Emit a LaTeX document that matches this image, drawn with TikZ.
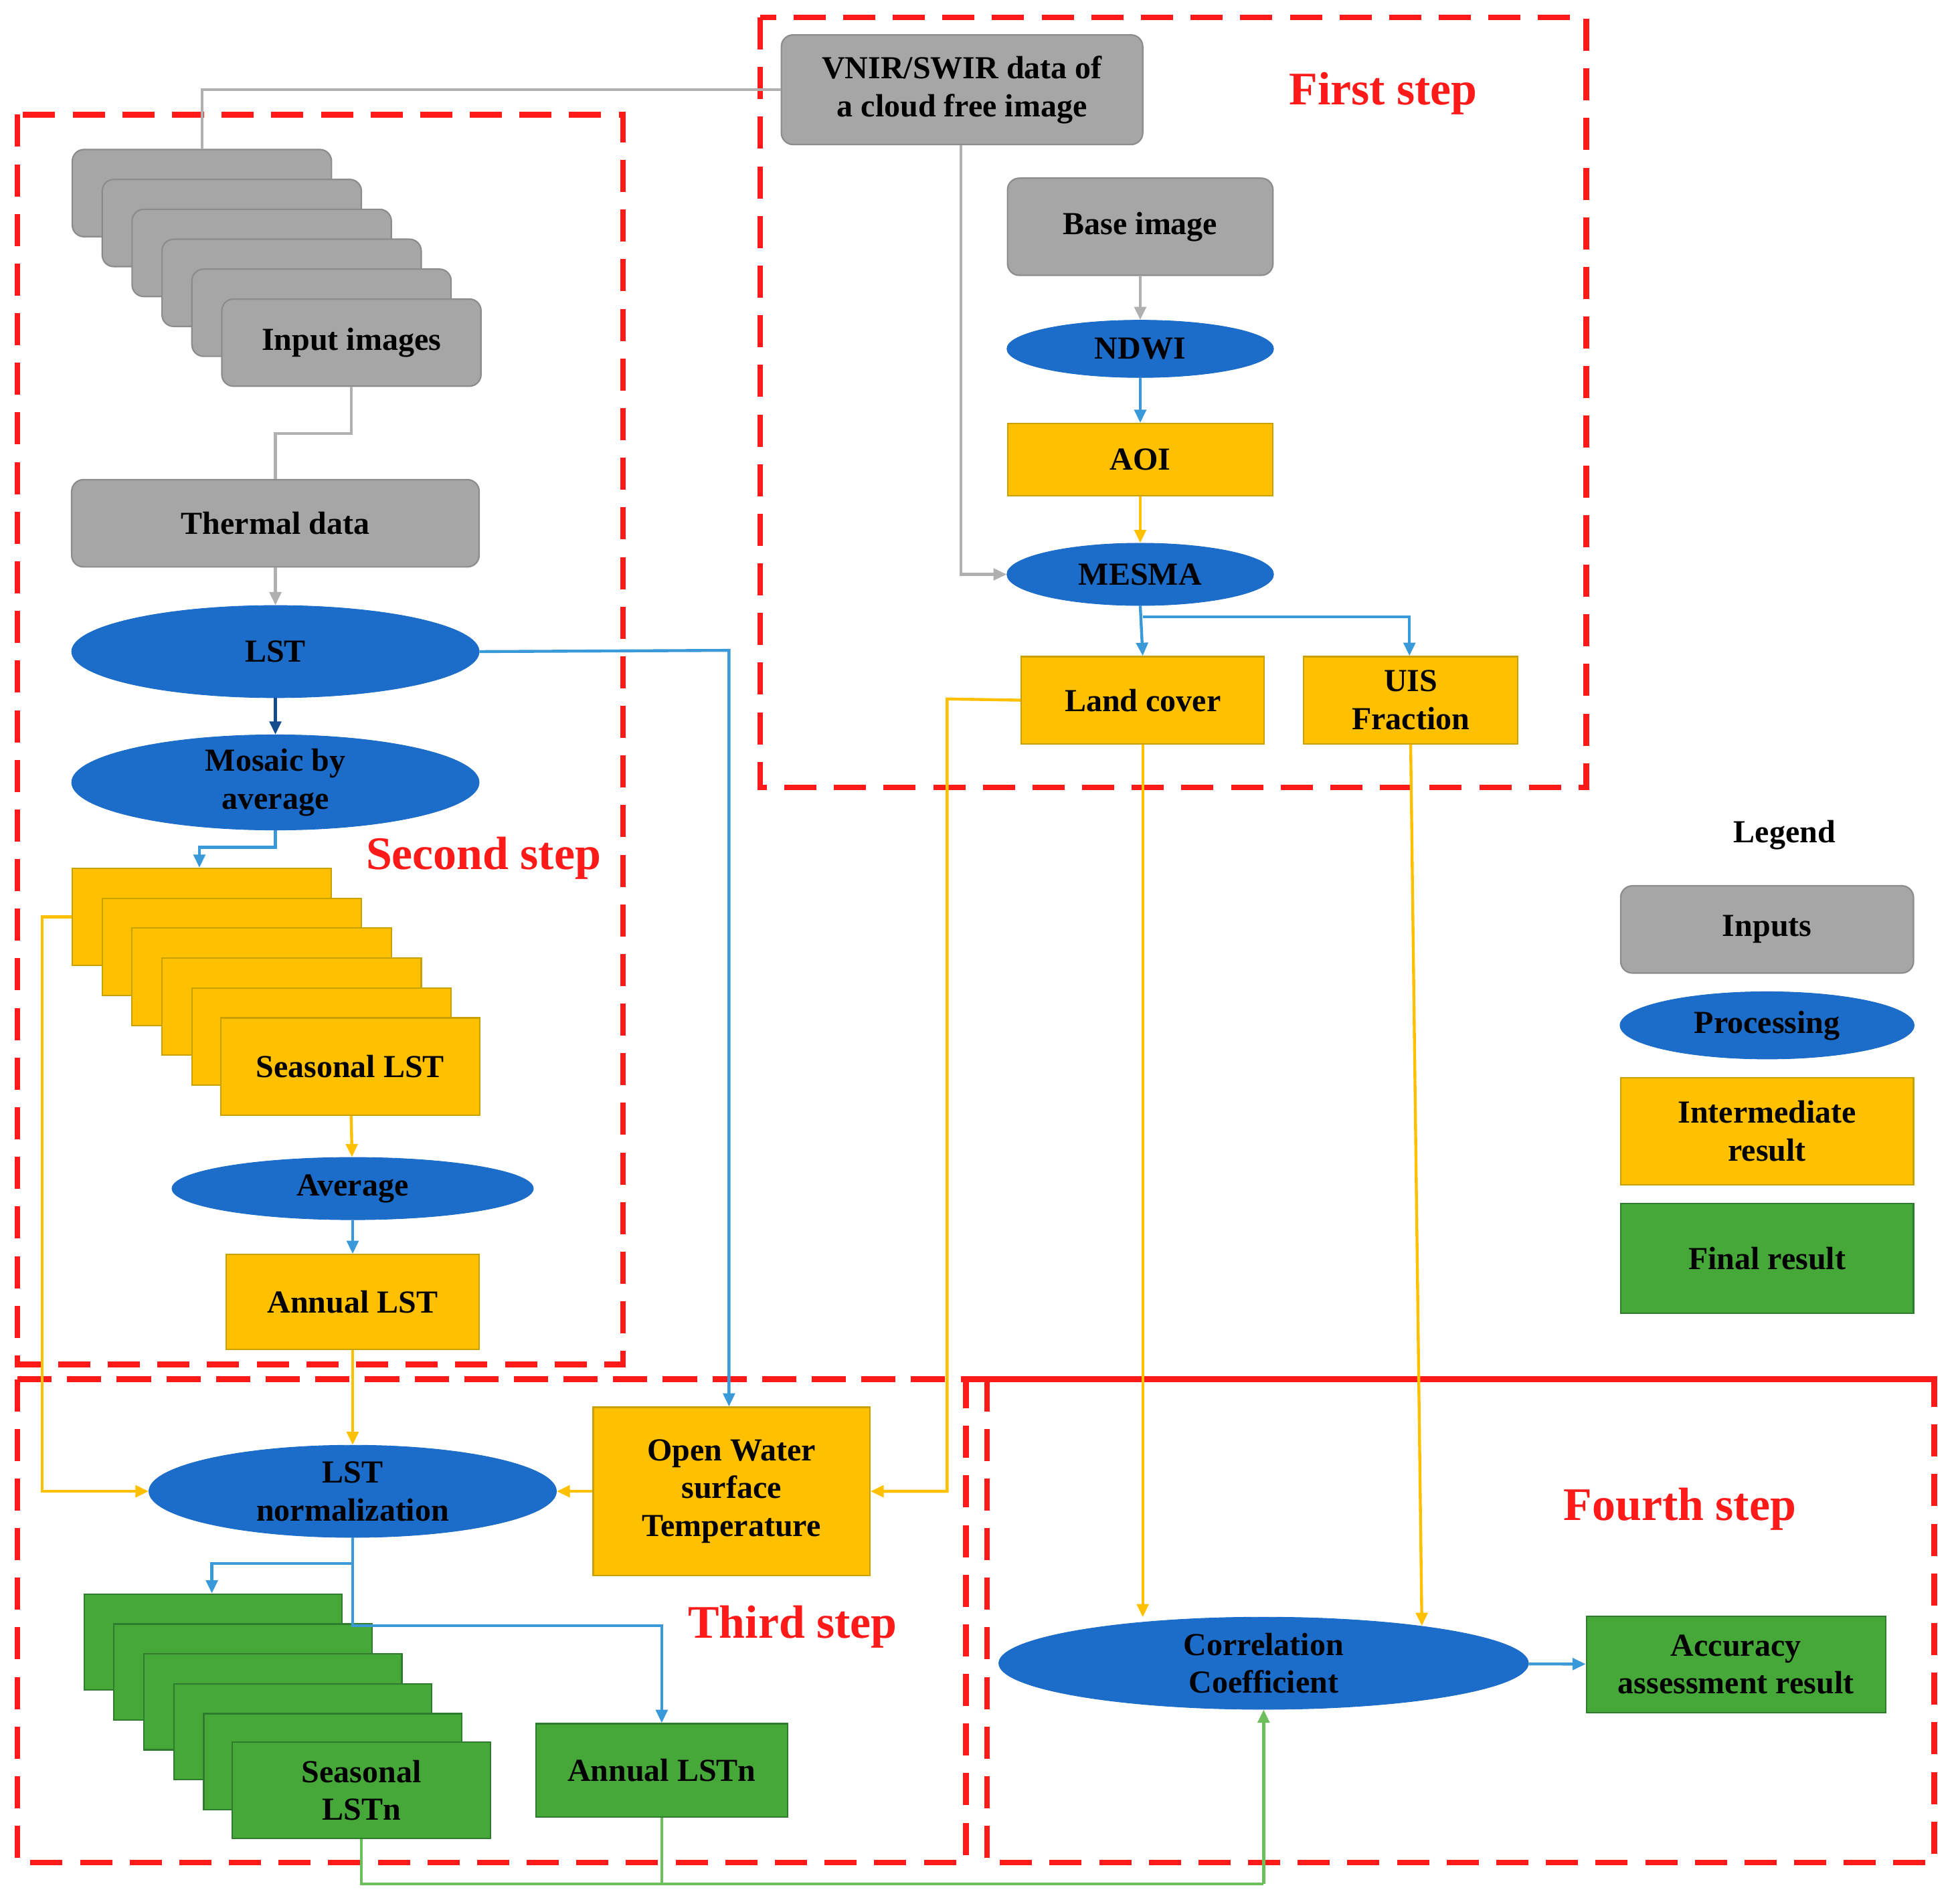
\documentclass[tikz,border=0pt]{standalone}
\usepackage{fontspec}
\setmainfont{Liberation Serif}
\usetikzlibrary{shapes.geometric,arrows.meta}
\definecolor{gfill}{HTML}{A6A6A6}
\definecolor{gline}{HTML}{8C8C8C}
\definecolor{bfill}{HTML}{1C6DC9}
\definecolor{yfill}{HTML}{FFC000}
\definecolor{yline}{HTML}{C8A000}
\definecolor{gnfill}{HTML}{47A83A}
\definecolor{gnline}{HTML}{2E7D2E}
\definecolor{barrow}{HTML}{3A9AD9}
\definecolor{garrow}{HTML}{B0B0B0}
\definecolor{grarrow}{HTML}{6CBF5A}
\definecolor{rdash}{HTML}{FF1A1A}
\begin{document}
\begin{tikzpicture}[x=0.03cm,y=-0.03cm,
  font=\fontsize{22}{26}\selectfont\bfseries,
  wh/.style 2 args={minimum width=#1*0.03cm, minimum height=#2*0.03cm, inner sep=0pt, align=center},
  gbox/.style={draw=gline, fill=gfill, rounded corners=8pt, line width=1pt},
  ybox/.style={draw=yline, fill=yfill, line width=1pt},
  gnbox/.style={draw=gnline, fill=gnfill, line width=1pt},
  proc/.style={ellipse, fill=bfill, draw=bfill},
  stepframe/.style={draw=rdash, line width=4pt, dash pattern=on 22pt off 12pt},
  lbl/.style={text=rdash, font=\fontsize{32}{36}\selectfont\bfseries},
  ar/.style={line width=2pt, -{Triangle[length=9pt,width=8pt]}},
  ln/.style={line width=2pt},
]
\useasboundingbox (0,0) rectangle (1568,1528);
% step frames
\draw[stepframe] (610,14) rectangle (1273,632);
\draw[stepframe] (14,92) rectangle (500,1095);
\draw[stepframe] (14,1107) -- (1552,1107);
\draw[stepframe] (14,1107) rectangle (775,1495);
\draw[stepframe] (792,1107) rectangle (1552,1495);
\node[lbl] (l1) at (1110,75) {First step};
\node[lbl] (l2) at (388,689) {Second step};
\node[lbl] (l3) at (636,1306) {Third step};
\node[lbl] (l4) at (1348,1211) {Fourth step};

% first step
\node[gbox, wh={290}{88}] (vnir) at (772,72) {VNIR/SWIR data of\\a cloud free image};
\node[gbox, wh={213}{78}] (base) at (915,182) {Base image};
\node[proc, wh={214}{46}] (ndwi) at (915,280) {NDWI};
\node[ybox, wh={213}{58}] (aoi) at (915,369) {AOI};
\node[proc, wh={214}{50}] (mesma) at (915,461) {MESMA};
\node[ybox, wh={195}{70}] (land) at (917,562) {Land cover};
\node[ybox, wh={172}{70}] (uis) at (1132,562) {UIS\\Fraction};
\draw[ar, garrow] (base) -- (ndwi);
\draw[ar, barrow] (ndwi) -- (aoi);
\draw[ar, yfill] (aoi) -- (mesma);
\draw[ar, garrow] (vnir.south -| 771,0) -- (771,461) -- (mesma.west);
\draw[ar, barrow] (mesma.south) -- (land.north);
\draw[ar, barrow] (917,495) -- (1131,495) -- (uis.north -| 1131,0);

% second step
\foreach \i in {0,...,4}{
  \node[gbox, wh={208}{70}] (in\i) at (162+24*\i,155+24*\i) {};
}
\node[gbox, wh={208}{70}] (input) at (282,275) {Input images};
\draw[ln, garrow] (vnir.west) -- (162,72) -- (in0.north);
\node[gbox, wh={327}{70}] (thermal) at (221,420) {Thermal data};
\draw[ln, garrow] (input.south) -- (282,348) -- (221,348) -- (thermal.north);
\node[proc, wh={327}{74}] (lst) at (221,523) {LST};
\draw[ar, garrow] (thermal) -- (lst);
\node[proc, wh={327}{74}] (mosaic) at (221,628) {Mosaic by\\average};
\draw[ar, bfill!70!black] (lst) -- (mosaic);
\foreach \i in {0,...,4}{
  \node[ybox, wh={208}{78}] (sl\i) at (162+24*\i,736+24*\i) {};
}
\node[ybox, wh={208}{78}] (seas) at (281,856) {Seasonal LST};
\draw[ar, barrow] (mosaic.south) -- (221,680) -- (160,680) -- (sl0.north -| 160,0);
\node[proc, wh={290}{50}] (avg) at (283,954) {Average};
\draw[ar, yfill] (seas) -- (avg);
\node[ybox, wh={203}{76}] (annual) at (283,1045) {Annual LST};
\draw[ar, barrow] (avg) -- (annual);

% third step
\node[proc, wh={327}{74}] (norm) at (283,1197) {LST\\normalization};
\node[ybox, wh={222}{135}] (ow) at (587,1197) {Open Water\\surface\\Temperature};
\draw[ar, yfill] (annual) -- (norm);
\draw[ar, yfill] (sl0.west) -- (34,736) -- (34,1197) -- (norm.west);
\draw[ar, barrow] (lst.east) -- (585,522) -- (ow.north -| 585,0);
\draw[ar, yfill] (ow) -- (norm);
\draw[ar, yfill] (land.west) -- (760,561) -- (760,1197) -- (ow.east);
\foreach \i in {0,...,4}{
  \node[gnbox, wh={207}{77}] (sn\i) at (171+24*\i,1318+24*\i) {};
}
\node[gnbox, wh={207}{77}] (seasn) at (290,1437) {Seasonal\\LSTn};
\node[gnbox, wh={202}{75}] (annn) at (531,1421) {Annual LSTn};
\draw[ar, barrow] (norm.south) -- (283,1255) -- (170,1255) -- (sn0.north -| 170,0);
\draw[ar, barrow] (283,1255) -- (283,1305) -- (531,1305) -- (annn.north);

% fourth step
\node[proc, wh={425}{74}] (corr) at (1014,1335) {Correlation\\Coefficient};
\node[gnbox, wh={240}{77}] (acc) at (1393,1336) {Accuracy\\assessment result};
\draw[ar, barrow] (corr) -- (acc);
\draw[ar, yfill] (land.south) -- (917,1298);
\draw[ar, yfill] (uis.south) -- (1141,1305);
\draw[ln, grarrow] (seasn.south) -- (290,1512) -- (1014,1512);
\draw[ln, grarrow] (annn.south) -- (531,1512);
\draw[ar, grarrow] (1014,1512) -- (corr.south);

% legend
\node (leg) at (1432,670) {Legend};
\node[gbox, wh={235}{70}] (lin) at (1418,746) {Inputs};
\node[proc, wh={236}{54}] (lpr) at (1418,823) {Processing};
\node[ybox, wh={235}{86}] (lir) at (1418,908) {Intermediate\\result};
\node[gnbox, wh={235}{88}] (lfr) at (1418,1010) {Final result};
\end{tikzpicture}
\end{document}
